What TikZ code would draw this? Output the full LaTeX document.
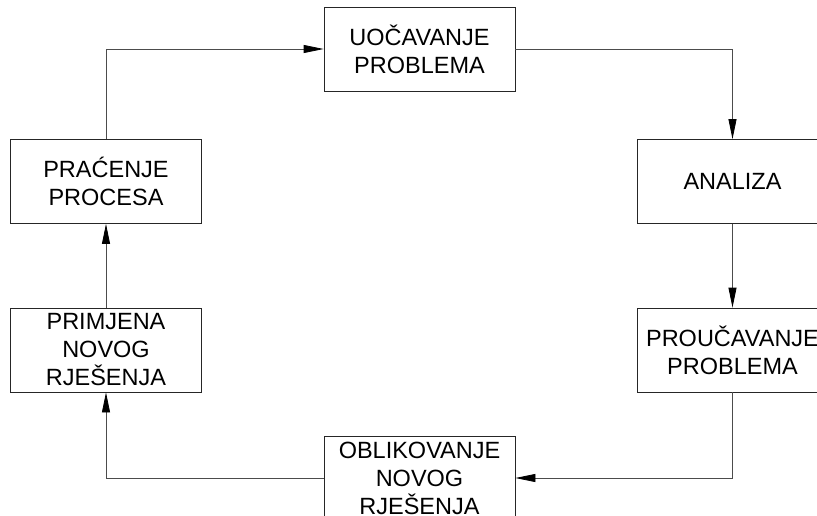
\documentclass[tikz,border=0pt]{standalone}
\usepackage{fontspec}
\setmainfont{Liberation Sans}
\usepackage{tikz}
\usetikzlibrary{arrows.meta}
\tikzstyle{stage}=[draw=black!85,line width=0.8pt,minimum width=191pt,minimum height=84pt,inner sep=0pt,align=center,font=\fontsize{23.5}{28}\selectfont]
\tikzstyle{flow}=[draw=black!70,line width=0.8pt,-{Triangle[length=20pt,width=8pt,fill=black,color=black]}]

\begin{document}
\begin{tikzpicture}[x=1pt,y=-1pt]
\useasboundingbox (0,0) rectangle (817,515);
\clip (0,0) rectangle (817,515);
    \node [stage] (uoc)   at (419.5,49)  {UOČAVANJE\\PROBLEMA};
    \node [stage] (anal)  at (732.5,181.5) {ANALIZA};
    \node [stage] (prouc) at (732.5,350) {PROUČAVANJE\\PROBLEMA};
    \node [stage] (oblik) at (419.5,478) {OBLIKOVANJE\\NOVOG\\RJEŠENJA};
    \node [stage] (prim)  at (106,350)   {PRIMJENA\\NOVOG\\RJEŠENJA};
    \node [stage] (prac)  at (106,181.5) {PRAĆENJE\\PROCESA};
    % ciklus
    \draw [flow] (prac.north) |- (uoc.west);
    \draw [flow] (uoc.east) -| (anal.north);
    \draw [flow] (anal.south) -- (prouc.north);
    \draw [flow] (prouc.south) |- (oblik.east);
    \draw [flow] (oblik.west) -| (prim.south);
    \draw [flow] (prim.north) -- (prac.south);
\end{tikzpicture}
\end{document}
